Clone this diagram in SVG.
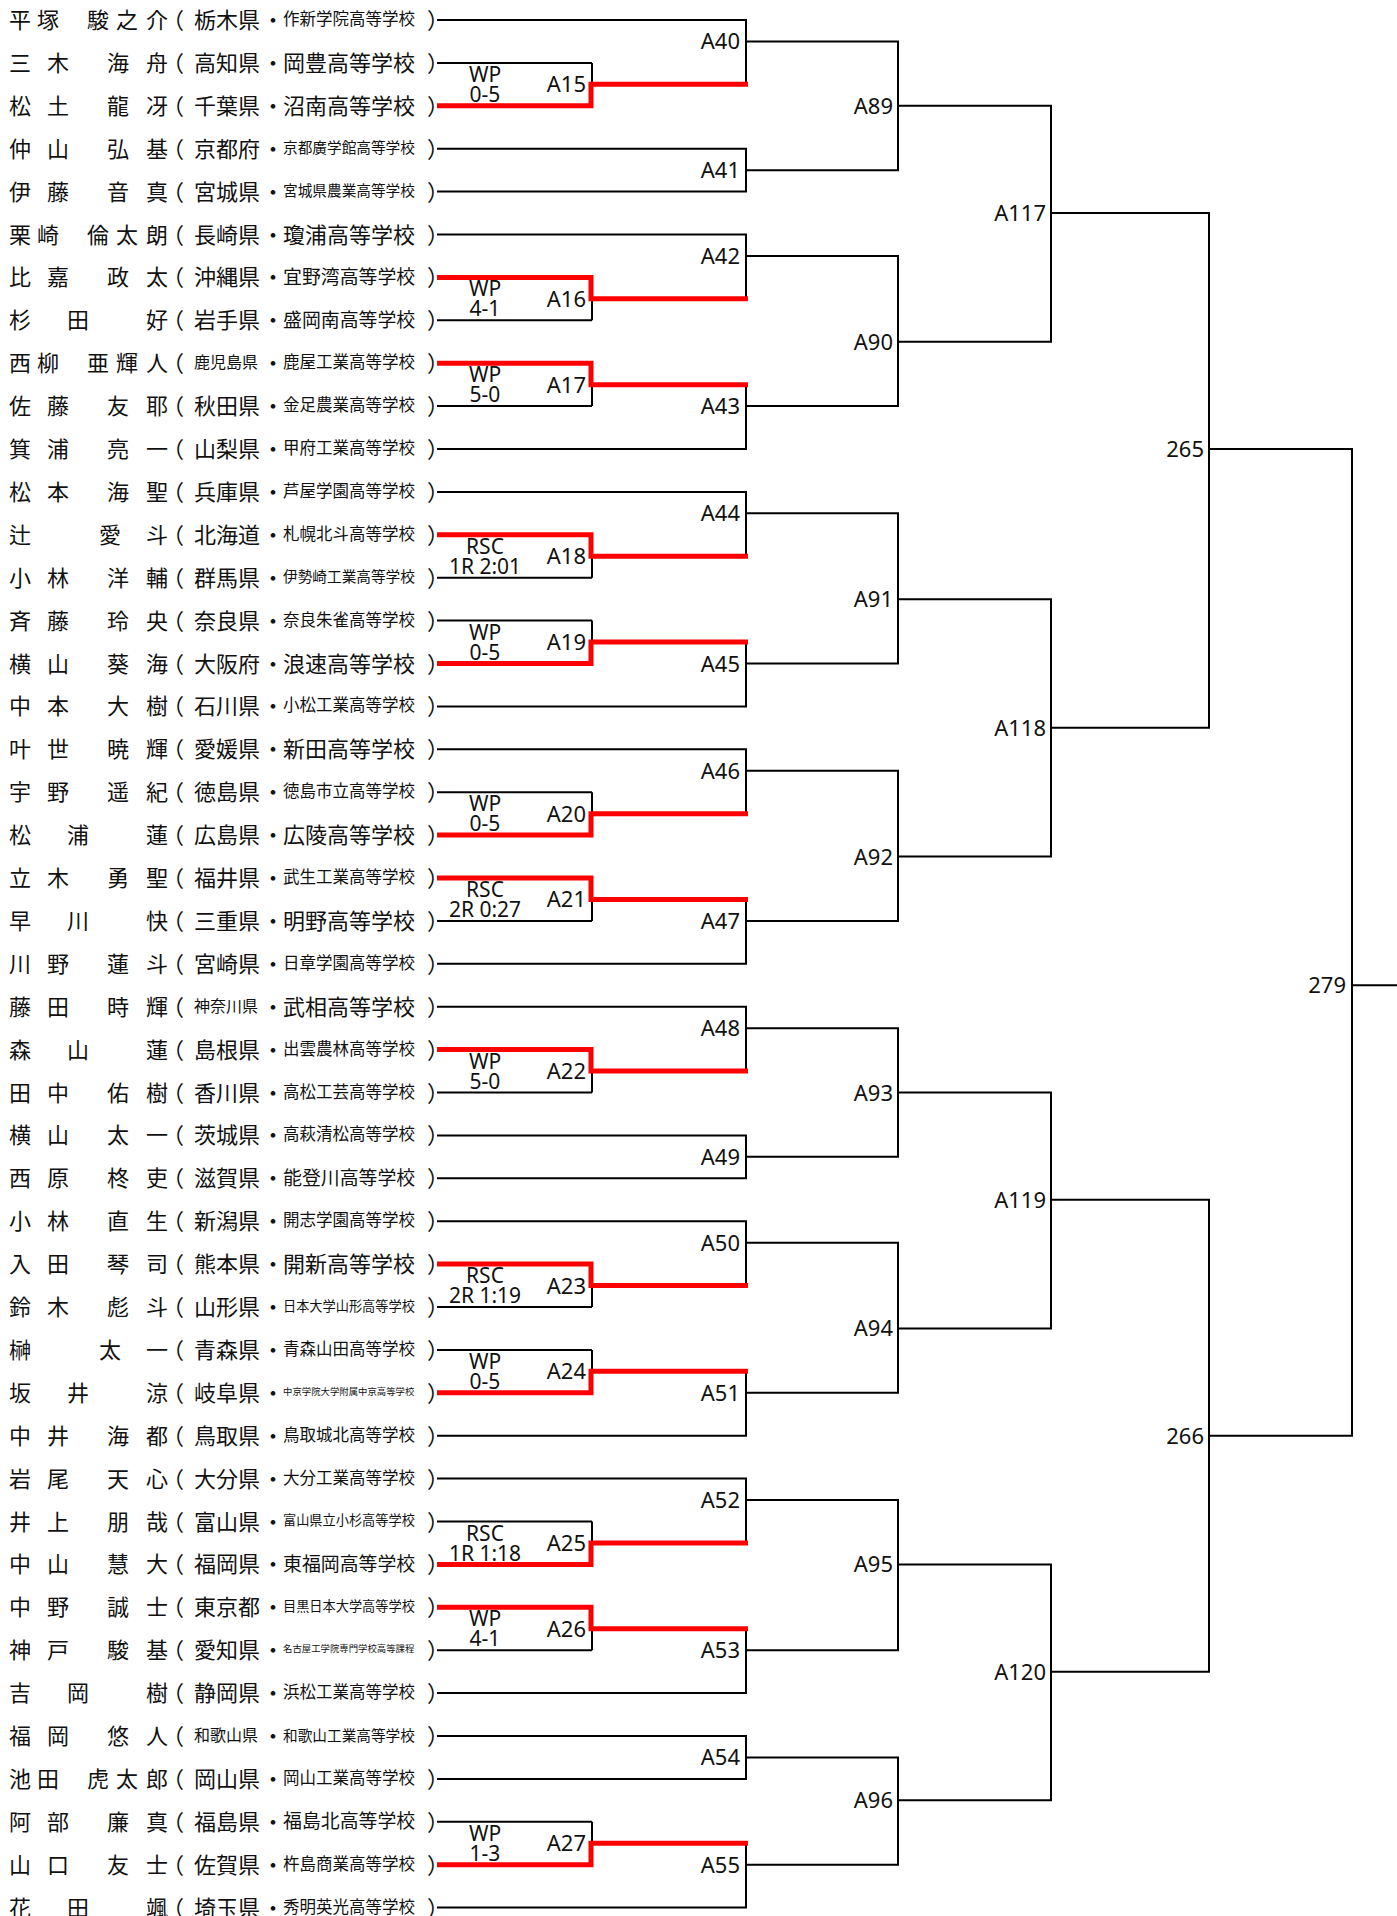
<svg xmlns="http://www.w3.org/2000/svg" width="1397" height="1916" viewBox="0 0 1397 1916">
<style>
text{fill:#111}
.n{font-family:"Noto Sans CJK JP","Noto Sans CJK SC",sans-serif;font-size:22px;dominant-baseline:central}
.s{font-family:"Noto Sans CJK JP","Noto Sans CJK SC",sans-serif;dominant-baseline:central}
.lb{font-family:"Noto Sans","Open Sans",sans-serif;font-size:22px;text-anchor:end}
.rs{font-family:"Noto Sans","Open Sans",sans-serif;font-size:21px;text-anchor:middle}
.ln{stroke:#000;stroke-width:2;fill:none}
.wn{stroke:#f00;stroke-width:5;fill:none}
</style>
<rect width="1397" height="1916" fill="#fff"/>
<g id="connectors">
<path class="ln" d="M437,20H747M437,62.9H592M437,105.8H592M437,148.7H747M437,191.6H747M437,234.5H747M437,277.4H592M437,320.3H592M437,363.2H592M437,406.1H592M437,449H747M437,491.9H747M437,534.8H592M437,577.7H592M437,620.6H592M437,663.5H592M437,706.4H747M437,749.3H747M437,792.2H592M437,835.1H592M437,878H592M437,920.9H592M437,963.8H747M437,1006.7H747M437,1049.6H592M437,1092.5H592M437,1135.4H747M437,1178.3H747M437,1221.2H747M437,1264.1H592M437,1307H592M437,1349.9H592M437,1392.8H592M437,1435.7H747M437,1478.6H747M437,1521.5H592M437,1564.4H592M437,1607.3H592M437,1650.2H592M437,1693.1H747M437,1736H747M437,1778.9H747M437,1821.8H592M437,1864.7H592M437,1907.6H747"/>
<path class="ln" d="M592,62.9V105.8M592,277.4V320.3M592,363.2V406.1M592,534.8V577.7M592,620.6V663.5M592,792.2V835.1M592,878V920.9M592,1049.6V1092.5M592,1264.1V1307M592,1349.9V1392.8M592,1521.5V1564.4M592,1607.3V1650.2M592,1821.8V1864.7"/>
<path class="ln" d="M746,20V84.35M746,148.7V191.6M746,234.5V298.85M746,384.65V449M746,491.9V556.25M746,642.05V706.4M746,749.3V813.65M746,899.45V963.8M746,1006.7V1071.05M746,1135.4V1178.3M746,1221.2V1285.55M746,1371.35V1435.7M746,1478.6V1542.95M746,1628.75V1693.1M746,1736V1778.9M746,1843.25V1907.6"/>
<path class="ln" d="M746,41.45H899M746,170.15H899M746,255.95H899M746,406.1H899M746,513.35H899M746,663.5H899M746,770.75H899M746,920.9H899M746,1028.15H899M746,1156.85H899M746,1242.65H899M746,1392.8H899M746,1500.05H899M746,1650.2H899M746,1757.45H899M746,1864.7H899"/>
<path class="ln" d="M898,41.45V170.15M898,255.95V406.1M898,513.35V663.5M898,770.75V920.9M898,1028.15V1156.85M898,1242.65V1392.8M898,1500.05V1650.2M898,1757.45V1864.7"/>
<path class="ln" d="M898,105.8H1052M898,341.75H1052M898,599.15H1052M898,856.55H1052M898,1092.5H1052M898,1328.45H1052M898,1564.4H1052M898,1800.35H1052"/>
<path class="ln" d="M1051,105.8V341.75M1051,599.15V856.55M1051,1092.5V1328.45M1051,1564.4V1800.35"/>
<path class="ln" d="M1051,213.05H1210M1051,727.85H1210M1051,1199.75H1210M1051,1671.65H1210"/>
<path class="ln" d="M1209,213.05V727.85M1209,1199.75V1671.65M1209,449H1353M1209,1435.7H1353M1352,449V1435.7M1352,985.25H1397"/>
<path class="wn" d="M437,105.8H591V84.35H748M437,277.4H591V298.85H748M437,363.2H591V384.65H748M437,534.8H591V556.25H748M437,663.5H591V642.05H748M437,835.1H591V813.65H748M437,878H591V899.45H748M437,1049.6H591V1071.05H748M437,1264.1H591V1285.55H748M437,1392.8H591V1371.35H748M437,1564.4H591V1542.95H748M437,1607.3H591V1628.75H748M437,1864.7H591V1843.25H748"/>
</g>
<g id="results">
<text class="rs" x="485" y="81.9">WP</text><text class="rs" x="485" y="101.9">0-5</text>
<text class="rs" x="485" y="296.4">WP</text><text class="rs" x="485" y="316.4">4-1</text>
<text class="rs" x="485" y="382.2">WP</text><text class="rs" x="485" y="402.2">5-0</text>
<text class="rs" x="485" y="553.8">RSC</text><text class="rs" x="485" y="573.8">1R 2:01</text>
<text class="rs" x="485" y="639.6">WP</text><text class="rs" x="485" y="659.6">0-5</text>
<text class="rs" x="485" y="811.2">WP</text><text class="rs" x="485" y="831.2">0-5</text>
<text class="rs" x="485" y="897">RSC</text><text class="rs" x="485" y="917">2R 0:27</text>
<text class="rs" x="485" y="1068.6">WP</text><text class="rs" x="485" y="1088.6">5-0</text>
<text class="rs" x="485" y="1283.1">RSC</text><text class="rs" x="485" y="1303.1">2R 1:19</text>
<text class="rs" x="485" y="1368.9">WP</text><text class="rs" x="485" y="1388.9">0-5</text>
<text class="rs" x="485" y="1540.5">RSC</text><text class="rs" x="485" y="1560.5">1R 1:18</text>
<text class="rs" x="485" y="1626.3">WP</text><text class="rs" x="485" y="1646.3">4-1</text>
<text class="rs" x="485" y="1840.8">WP</text><text class="rs" x="485" y="1860.8">1-3</text>
</g>
<g id="matches">
<text class="lb" x="586" y="92.35">A15</text>
<text class="lb" x="586" y="306.85">A16</text>
<text class="lb" x="586" y="392.65">A17</text>
<text class="lb" x="586" y="564.25">A18</text>
<text class="lb" x="586" y="650.05">A19</text>
<text class="lb" x="586" y="821.65">A20</text>
<text class="lb" x="586" y="907.45">A21</text>
<text class="lb" x="586" y="1079.05">A22</text>
<text class="lb" x="586" y="1293.55">A23</text>
<text class="lb" x="586" y="1379.35">A24</text>
<text class="lb" x="586" y="1550.95">A25</text>
<text class="lb" x="586" y="1636.75">A26</text>
<text class="lb" x="586" y="1851.25">A27</text>
<text class="lb" x="740" y="49.45">A40</text>
<text class="lb" x="740" y="178.15">A41</text>
<text class="lb" x="740" y="263.95">A42</text>
<text class="lb" x="740" y="414.1">A43</text>
<text class="lb" x="740" y="521.35">A44</text>
<text class="lb" x="740" y="671.5">A45</text>
<text class="lb" x="740" y="778.75">A46</text>
<text class="lb" x="740" y="928.9">A47</text>
<text class="lb" x="740" y="1036.15">A48</text>
<text class="lb" x="740" y="1164.85">A49</text>
<text class="lb" x="740" y="1250.65">A50</text>
<text class="lb" x="740" y="1400.8">A51</text>
<text class="lb" x="740" y="1508.05">A52</text>
<text class="lb" x="740" y="1658.2">A53</text>
<text class="lb" x="740" y="1765.45">A54</text>
<text class="lb" x="740" y="1872.7">A55</text>
<text class="lb" x="893" y="113.8">A89</text>
<text class="lb" x="893" y="349.75">A90</text>
<text class="lb" x="893" y="607.15">A91</text>
<text class="lb" x="893" y="864.55">A92</text>
<text class="lb" x="893" y="1100.5">A93</text>
<text class="lb" x="893" y="1336.45">A94</text>
<text class="lb" x="893" y="1572.4">A95</text>
<text class="lb" x="893" y="1808.35">A96</text>
<text class="lb" x="1046" y="221.05">A117</text>
<text class="lb" x="1046" y="735.85">A118</text>
<text class="lb" x="1046" y="1207.75">A119</text>
<text class="lb" x="1046" y="1679.65">A120</text>
<text class="lb" x="1204" y="457">265</text>
<text class="lb" x="1204" y="1443.7">266</text>
<text class="lb" x="1346" y="993.25">279</text>
</g>
<g id="players" transform="translate(0,-2)">
<g id="p0"><text class="n" x="9 37 87 116 146" y="20">平塚駿之介</text><text class="n" x="162" y="20">（</text><text class="n" x="194" y="20">栃木県</text><text class="n" x="262" y="20">・</text><text class="s" x="283" y="20" font-size="16.5">作新学院高等学校</text><text class="n" x="427" y="20">）</text></g>
<g id="p1"><text class="n" x="9 47 107 146" y="62.9">三木海舟</text><text class="n" x="162" y="62.9">（</text><text class="n" x="194" y="62.9">高知県</text><text class="n" x="262" y="62.9">・</text><text class="s" x="283" y="62.9" font-size="22">岡豊高等学校</text><text class="n" x="427" y="62.9">）</text></g>
<g id="p2"><text class="n" x="9 47 107 146" y="105.8">松土龍冴</text><text class="n" x="162" y="105.8">（</text><text class="n" x="194" y="105.8">千葉県</text><text class="n" x="262" y="105.8">・</text><text class="s" x="283" y="105.8" font-size="22">沼南高等学校</text><text class="n" x="427" y="105.8">）</text></g>
<g id="p3"><text class="n" x="9 47 107 146" y="148.7">仲山弘基</text><text class="n" x="162" y="148.7">（</text><text class="n" x="194" y="148.7">京都府</text><text class="n" x="262" y="148.7">・</text><text class="s" x="283" y="148.7" font-size="14.67">京都廣学館高等学校</text><text class="n" x="427" y="148.7">）</text></g>
<g id="p4"><text class="n" x="9 47 107 146" y="191.6">伊藤音真</text><text class="n" x="162" y="191.6">（</text><text class="n" x="194" y="191.6">宮城県</text><text class="n" x="262" y="191.6">・</text><text class="s" x="283" y="191.6" font-size="14.67">宮城県農業高等学校</text><text class="n" x="427" y="191.6">）</text></g>
<g id="p5"><text class="n" x="9 37 87 116 146" y="234.5">栗崎倫太朗</text><text class="n" x="162" y="234.5">（</text><text class="n" x="194" y="234.5">長崎県</text><text class="n" x="262" y="234.5">・</text><text class="s" x="283" y="234.5" font-size="22">瓊浦高等学校</text><text class="n" x="427" y="234.5">）</text></g>
<g id="p6"><text class="n" x="9 47 107 146" y="277.4">比嘉政太</text><text class="n" x="162" y="277.4">（</text><text class="n" x="194" y="277.4">沖縄県</text><text class="n" x="262" y="277.4">・</text><text class="s" x="283" y="277.4" font-size="18.9">宜野湾高等学校</text><text class="n" x="427" y="277.4">）</text></g>
<g id="p7"><text class="n" x="9 67 146" y="320.3">杉田好</text><text class="n" x="162" y="320.3">（</text><text class="n" x="194" y="320.3">岩手県</text><text class="n" x="262" y="320.3">・</text><text class="s" x="283" y="320.3" font-size="18.9">盛岡南高等学校</text><text class="n" x="427" y="320.3">）</text></g>
<g id="p8"><text class="n" x="9 37 87 116 146" y="363.2">西柳亜輝人</text><text class="n" x="162" y="363.2">（</text><text class="s" x="194" y="363.2" font-size="16">鹿児島県</text><text class="n" x="262" y="363.2">・</text><text class="s" x="283" y="363.2" font-size="16.5">鹿屋工業高等学校</text><text class="n" x="427" y="363.2">）</text></g>
<g id="p9"><text class="n" x="9 47 107 146" y="406.1">佐藤友耶</text><text class="n" x="162" y="406.1">（</text><text class="n" x="194" y="406.1">秋田県</text><text class="n" x="262" y="406.1">・</text><text class="s" x="283" y="406.1" font-size="16.5">金足農業高等学校</text><text class="n" x="427" y="406.1">）</text></g>
<g id="p10"><text class="n" x="9 47 107 146" y="449">箕浦亮一</text><text class="n" x="162" y="449">（</text><text class="n" x="194" y="449">山梨県</text><text class="n" x="262" y="449">・</text><text class="s" x="283" y="449" font-size="16.5">甲府工業高等学校</text><text class="n" x="427" y="449">）</text></g>
<g id="p11"><text class="n" x="9 47 107 146" y="491.9">松本海聖</text><text class="n" x="162" y="491.9">（</text><text class="n" x="194" y="491.9">兵庫県</text><text class="n" x="262" y="491.9">・</text><text class="s" x="283" y="491.9" font-size="16.5">芦屋学園高等学校</text><text class="n" x="427" y="491.9">）</text></g>
<g id="p12"><text class="n" x="9 99 146" y="534.8">辻愛斗</text><text class="n" x="162" y="534.8">（</text><text class="n" x="194" y="534.8">北海道</text><text class="n" x="262" y="534.8">・</text><text class="s" x="283" y="534.8" font-size="16.5">札幌北斗高等学校</text><text class="n" x="427" y="534.8">）</text></g>
<g id="p13"><text class="n" x="9 47 107 146" y="577.7">小林洋輔</text><text class="n" x="162" y="577.7">（</text><text class="n" x="194" y="577.7">群馬県</text><text class="n" x="262" y="577.7">・</text><text class="s" x="283" y="577.7" font-size="14.67">伊勢崎工業高等学校</text><text class="n" x="427" y="577.7">）</text></g>
<g id="p14"><text class="n" x="9 47 107 146" y="620.6">斉藤玲央</text><text class="n" x="162" y="620.6">（</text><text class="n" x="194" y="620.6">奈良県</text><text class="n" x="262" y="620.6">・</text><text class="s" x="283" y="620.6" font-size="16.5">奈良朱雀高等学校</text><text class="n" x="427" y="620.6">）</text></g>
<g id="p15"><text class="n" x="9 47 107 146" y="663.5">横山葵海</text><text class="n" x="162" y="663.5">（</text><text class="n" x="194" y="663.5">大阪府</text><text class="n" x="262" y="663.5">・</text><text class="s" x="283" y="663.5" font-size="22">浪速高等学校</text><text class="n" x="427" y="663.5">）</text></g>
<g id="p16"><text class="n" x="9 47 107 146" y="706.4">中本大樹</text><text class="n" x="162" y="706.4">（</text><text class="n" x="194" y="706.4">石川県</text><text class="n" x="262" y="706.4">・</text><text class="s" x="283" y="706.4" font-size="16.5">小松工業高等学校</text><text class="n" x="427" y="706.4">）</text></g>
<g id="p17"><text class="n" x="9 47 107 146" y="749.3">叶世暁輝</text><text class="n" x="162" y="749.3">（</text><text class="n" x="194" y="749.3">愛媛県</text><text class="n" x="262" y="749.3">・</text><text class="s" x="283" y="749.3" font-size="22">新田高等学校</text><text class="n" x="427" y="749.3">）</text></g>
<g id="p18"><text class="n" x="9 47 107 146" y="792.2">宇野遥紀</text><text class="n" x="162" y="792.2">（</text><text class="n" x="194" y="792.2">徳島県</text><text class="n" x="262" y="792.2">・</text><text class="s" x="283" y="792.2" font-size="16.5">徳島市立高等学校</text><text class="n" x="427" y="792.2">）</text></g>
<g id="p19"><text class="n" x="9 67 146" y="835.1">松浦蓮</text><text class="n" x="162" y="835.1">（</text><text class="n" x="194" y="835.1">広島県</text><text class="n" x="262" y="835.1">・</text><text class="s" x="283" y="835.1" font-size="22">広陵高等学校</text><text class="n" x="427" y="835.1">）</text></g>
<g id="p20"><text class="n" x="9 47 107 146" y="878">立木勇聖</text><text class="n" x="162" y="878">（</text><text class="n" x="194" y="878">福井県</text><text class="n" x="262" y="878">・</text><text class="s" x="283" y="878" font-size="16.5">武生工業高等学校</text><text class="n" x="427" y="878">）</text></g>
<g id="p21"><text class="n" x="9 67 146" y="920.9">早川快</text><text class="n" x="162" y="920.9">（</text><text class="n" x="194" y="920.9">三重県</text><text class="n" x="262" y="920.9">・</text><text class="s" x="283" y="920.9" font-size="22">明野高等学校</text><text class="n" x="427" y="920.9">）</text></g>
<g id="p22"><text class="n" x="9 47 107 146" y="963.8">川野蓮斗</text><text class="n" x="162" y="963.8">（</text><text class="n" x="194" y="963.8">宮崎県</text><text class="n" x="262" y="963.8">・</text><text class="s" x="283" y="963.8" font-size="16.5">日章学園高等学校</text><text class="n" x="427" y="963.8">）</text></g>
<g id="p23"><text class="n" x="9 47 107 146" y="1006.7">藤田時輝</text><text class="n" x="162" y="1006.7">（</text><text class="s" x="194" y="1006.7" font-size="16">神奈川県</text><text class="n" x="262" y="1006.7">・</text><text class="s" x="283" y="1006.7" font-size="22">武相高等学校</text><text class="n" x="427" y="1006.7">）</text></g>
<g id="p24"><text class="n" x="9 67 146" y="1049.6">森山蓮</text><text class="n" x="162" y="1049.6">（</text><text class="n" x="194" y="1049.6">島根県</text><text class="n" x="262" y="1049.6">・</text><text class="s" x="283" y="1049.6" font-size="16.5">出雲農林高等学校</text><text class="n" x="427" y="1049.6">）</text></g>
<g id="p25"><text class="n" x="9 47 107 146" y="1092.5">田中佑樹</text><text class="n" x="162" y="1092.5">（</text><text class="n" x="194" y="1092.5">香川県</text><text class="n" x="262" y="1092.5">・</text><text class="s" x="283" y="1092.5" font-size="16.5">高松工芸高等学校</text><text class="n" x="427" y="1092.5">）</text></g>
<g id="p26"><text class="n" x="9 47 107 146" y="1135.4">横山太一</text><text class="n" x="162" y="1135.4">（</text><text class="n" x="194" y="1135.4">茨城県</text><text class="n" x="262" y="1135.4">・</text><text class="s" x="283" y="1135.4" font-size="16.5">高萩清松高等学校</text><text class="n" x="427" y="1135.4">）</text></g>
<g id="p27"><text class="n" x="9 47 107 146" y="1178.3">西原柊吏</text><text class="n" x="162" y="1178.3">（</text><text class="n" x="194" y="1178.3">滋賀県</text><text class="n" x="262" y="1178.3">・</text><text class="s" x="283" y="1178.3" font-size="18.9">能登川高等学校</text><text class="n" x="427" y="1178.3">）</text></g>
<g id="p28"><text class="n" x="9 47 107 146" y="1221.2">小林直生</text><text class="n" x="162" y="1221.2">（</text><text class="n" x="194" y="1221.2">新潟県</text><text class="n" x="262" y="1221.2">・</text><text class="s" x="283" y="1221.2" font-size="16.5">開志学園高等学校</text><text class="n" x="427" y="1221.2">）</text></g>
<g id="p29"><text class="n" x="9 47 107 146" y="1264.1">入田琴司</text><text class="n" x="162" y="1264.1">（</text><text class="n" x="194" y="1264.1">熊本県</text><text class="n" x="262" y="1264.1">・</text><text class="s" x="283" y="1264.1" font-size="22">開新高等学校</text><text class="n" x="427" y="1264.1">）</text></g>
<g id="p30"><text class="n" x="9 47 107 146" y="1307">鈴木彪斗</text><text class="n" x="162" y="1307">（</text><text class="n" x="194" y="1307">山形県</text><text class="n" x="262" y="1307">・</text><text class="s" x="283" y="1307" font-size="13.2">日本大学山形高等学校</text><text class="n" x="427" y="1307">）</text></g>
<g id="p31"><text class="n" x="9 99 146" y="1349.9">榊太一</text><text class="n" x="162" y="1349.9">（</text><text class="n" x="194" y="1349.9">青森県</text><text class="n" x="262" y="1349.9">・</text><text class="s" x="283" y="1349.9" font-size="16.5">青森山田高等学校</text><text class="n" x="427" y="1349.9">）</text></g>
<g id="p32"><text class="n" x="9 67 146" y="1392.8">坂井涼</text><text class="n" x="162" y="1392.8">（</text><text class="n" x="194" y="1392.8">岐阜県</text><text class="n" x="262" y="1392.8">・</text><text class="s" x="283" y="1392.8" font-size="9.4">中京学院大学附属中京高等学校</text><text class="n" x="427" y="1392.8">）</text></g>
<g id="p33"><text class="n" x="9 47 107 146" y="1435.7">中井海都</text><text class="n" x="162" y="1435.7">（</text><text class="n" x="194" y="1435.7">鳥取県</text><text class="n" x="262" y="1435.7">・</text><text class="s" x="283" y="1435.7" font-size="16.5">鳥取城北高等学校</text><text class="n" x="427" y="1435.7">）</text></g>
<g id="p34"><text class="n" x="9 47 107 146" y="1478.6">岩尾天心</text><text class="n" x="162" y="1478.6">（</text><text class="n" x="194" y="1478.6">大分県</text><text class="n" x="262" y="1478.6">・</text><text class="s" x="283" y="1478.6" font-size="16.5">大分工業高等学校</text><text class="n" x="427" y="1478.6">）</text></g>
<g id="p35"><text class="n" x="9 47 107 146" y="1521.5">井上朋哉</text><text class="n" x="162" y="1521.5">（</text><text class="n" x="194" y="1521.5">富山県</text><text class="n" x="262" y="1521.5">・</text><text class="s" x="283" y="1521.5" font-size="13.2">富山県立小杉高等学校</text><text class="n" x="427" y="1521.5">）</text></g>
<g id="p36"><text class="n" x="9 47 107 146" y="1564.4">中山慧大</text><text class="n" x="162" y="1564.4">（</text><text class="n" x="194" y="1564.4">福岡県</text><text class="n" x="262" y="1564.4">・</text><text class="s" x="283" y="1564.4" font-size="18.9">東福岡高等学校</text><text class="n" x="427" y="1564.4">）</text></g>
<g id="p37"><text class="n" x="9 47 107 146" y="1607.3">中野誠士</text><text class="n" x="162" y="1607.3">（</text><text class="n" x="194" y="1607.3">東京都</text><text class="n" x="262" y="1607.3">・</text><text class="s" x="283" y="1607.3" font-size="13.2">目黒日本大学高等学校</text><text class="n" x="427" y="1607.3">）</text></g>
<g id="p38"><text class="n" x="9 47 107 146" y="1650.2">神戸駿基</text><text class="n" x="162" y="1650.2">（</text><text class="n" x="194" y="1650.2">愛知県</text><text class="n" x="262" y="1650.2">・</text><text class="s" x="283" y="1650.2" font-size="9.4">名古屋工学院専門学校高等課程</text><text class="n" x="427" y="1650.2">）</text></g>
<g id="p39"><text class="n" x="9 67 146" y="1693.1">吉岡樹</text><text class="n" x="162" y="1693.1">（</text><text class="n" x="194" y="1693.1">静岡県</text><text class="n" x="262" y="1693.1">・</text><text class="s" x="283" y="1693.1" font-size="16.5">浜松工業高等学校</text><text class="n" x="427" y="1693.1">）</text></g>
<g id="p40"><text class="n" x="9 47 107 146" y="1736">福岡悠人</text><text class="n" x="162" y="1736">（</text><text class="s" x="194" y="1736" font-size="16">和歌山県</text><text class="n" x="262" y="1736">・</text><text class="s" x="283" y="1736" font-size="14.67">和歌山工業高等学校</text><text class="n" x="427" y="1736">）</text></g>
<g id="p41"><text class="n" x="9 37 87 116 146" y="1778.9">池田虎太郎</text><text class="n" x="162" y="1778.9">（</text><text class="n" x="194" y="1778.9">岡山県</text><text class="n" x="262" y="1778.9">・</text><text class="s" x="283" y="1778.9" font-size="16.5">岡山工業高等学校</text><text class="n" x="427" y="1778.9">）</text></g>
<g id="p42"><text class="n" x="9 47 107 146" y="1821.8">阿部廉真</text><text class="n" x="162" y="1821.8">（</text><text class="n" x="194" y="1821.8">福島県</text><text class="n" x="262" y="1821.8">・</text><text class="s" x="283" y="1821.8" font-size="18.9">福島北高等学校</text><text class="n" x="427" y="1821.8">）</text></g>
<g id="p43"><text class="n" x="9 47 107 146" y="1864.7">山口友士</text><text class="n" x="162" y="1864.7">（</text><text class="n" x="194" y="1864.7">佐賀県</text><text class="n" x="262" y="1864.7">・</text><text class="s" x="283" y="1864.7" font-size="16.5">杵島商業高等学校</text><text class="n" x="427" y="1864.7">）</text></g>
<g id="p44"><text class="n" x="9 67 146" y="1907.6">花田颯</text><text class="n" x="162" y="1907.6">（</text><text class="n" x="194" y="1907.6">埼玉県</text><text class="n" x="262" y="1907.6">・</text><text class="s" x="283" y="1907.6" font-size="16.5">秀明英光高等学校</text><text class="n" x="427" y="1907.6">）</text></g>
</g>
</svg>
